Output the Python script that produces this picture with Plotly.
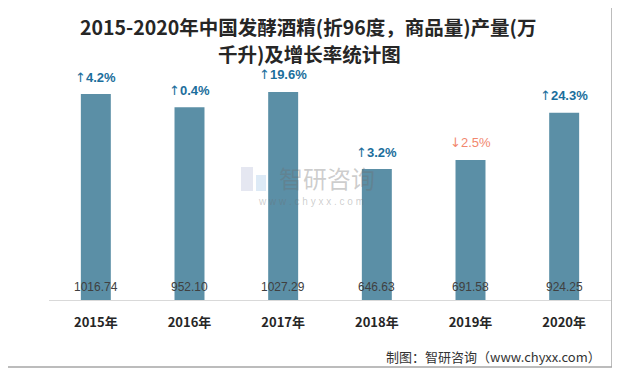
import plotly.graph_objects as go

years = ["2015年", "2016年", "2017年", "2018年", "2019年", "2020年"]
output = [1016.74, 952.10, 1027.29, 646.63, 691.58, 924.25]
growth = [4.2, 0.4, 19.6, 3.2, -2.5, 24.3]

title_l1 = "2015-2020年中国发酵酒精(折96度，商品量)产量(万"
title_l2 = "千升)及增长率统计图"
source = "制图：智研咨询（www.chyxx.com）"

# page body has an 8px margin; figure is sized to fit the 620x371 window
OFF = 8
W, H = 620 - OFF, 371 - OFF
ML, MR, MT, MB = 49 - OFF, 9, 57 - OFF, 71
pw = W - ML - MR
ph = H - MT - MB

def px(x):  # screen pixel -> paper
    return (x - OFF - ML) / pw

def py(y):
    return (H - MB - (y - OFF)) / ph

BAR = "#5B8FA6"
UP = "#1B6E9C"
DOWN = "#F2876E"
CJK = "Noto Sans CJK SC"

fig = go.Figure()
fig.add_trace(go.Bar(
    x=years, y=output, marker=dict(color=BAR, line=dict(width=0)),
    width=0.32, hoverinfo="skip",
))

ann = []
for yr, v, g in zip(years, output, growth):
    ann.append(dict(x=yr, y=0, xref="x", yref="y", text=f"{v:.2f}",
                    showarrow=False, yanchor="middle", yshift=13,
                    font=dict(family="Liberation Sans, Arial", size=12, color="#404040")))
    if g >= 0:
        arrow, num, c, wgt = "↑", f"{g:.1f}%", UP, "bold"
    else:
        arrow, num, c, wgt = "↓", f"{abs(g):.1f}%", DOWN, "normal"
    t = f"<span style=\"font-family:'DejaVu Sans';font-weight:normal\">{arrow}</span>{num}"
    ann.append(dict(x=yr, y=v, xref="x", yref="y", text=t, showarrow=False,
                    yanchor="middle", yshift=17,
                    font=dict(family="Liberation Sans, Arial", size=13, color=c, weight=wgt)))

ann.append(dict(x=px(308), y=py(27), xref="paper", yref="paper", text=title_l1,
                showarrow=False, xanchor="center", yanchor="middle",
                font=dict(family=CJK, size=19.5, color="#262626", weight="bold")))
ann.append(dict(x=px(309), y=py(54), xref="paper", yref="paper", text=title_l2,
                showarrow=False, xanchor="center", yanchor="middle",
                font=dict(family=CJK, size=19.5, color="#262626", weight="bold")))
ann.append(dict(x=px(603), y=py(356), xref="paper", yref="paper", text=source,
                showarrow=False, xanchor="right", yanchor="middle",
                font=dict(family=CJK, size=13, color="#333333")))
# watermark
ann.append(dict(x=px(327), y=py(177), xref="paper", yref="paper", text="智研咨询",
                showarrow=False, xanchor="center", yanchor="middle",
                font=dict(family=CJK, size=24, color="rgba(110,110,110,0.35)")))
ann.append(dict(x=px(311), y=py(201), xref="paper", yref="paper",
                text="w w w . c h y x x . c o m",
                showarrow=False, xanchor="center", yanchor="middle",
                font=dict(family="Liberation Sans", size=10, color="rgba(110,110,110,0.35)")))

shapes = [
    dict(type="rect", xref="paper", yref="paper",
         x0=px(6), x1=px(612), y0=py(367), y1=py(4),
         line=dict(color="#A6A6A6", width=1.5), fillcolor="rgba(0,0,0,0)", layer="below"),
    dict(type="rect", xref="paper", yref="paper",
         x0=px(241), x1=px(253), y0=py(191), y1=py(167),
         line=dict(width=0), fillcolor="rgba(150,160,200,0.25)", layer="above"),
    dict(type="rect", xref="paper", yref="paper",
         x0=px(256), x1=px(266), y0=py(191), y1=py(175),
         line=dict(width=0), fillcolor="rgba(120,170,220,0.25)", layer="above"),
]

fig.update_layout(
    width=W, height=H,
    margin=dict(l=ML, r=MR, t=MT, b=MB, pad=0),
    paper_bgcolor="white", plot_bgcolor="white",
    showlegend=False,
    annotations=ann, shapes=shapes,
    xaxis=dict(showline=True, linecolor="#D9D9D9", linewidth=1, ticks="",
               showgrid=False, ticklabelstandoff=10,
               tickfont=dict(family=CJK, size=13, color="#262626", weight="bold")),
    yaxis=dict(range=[0, 1200], visible=False, showgrid=False, zeroline=False),
)

fig.write_html("out.html")
